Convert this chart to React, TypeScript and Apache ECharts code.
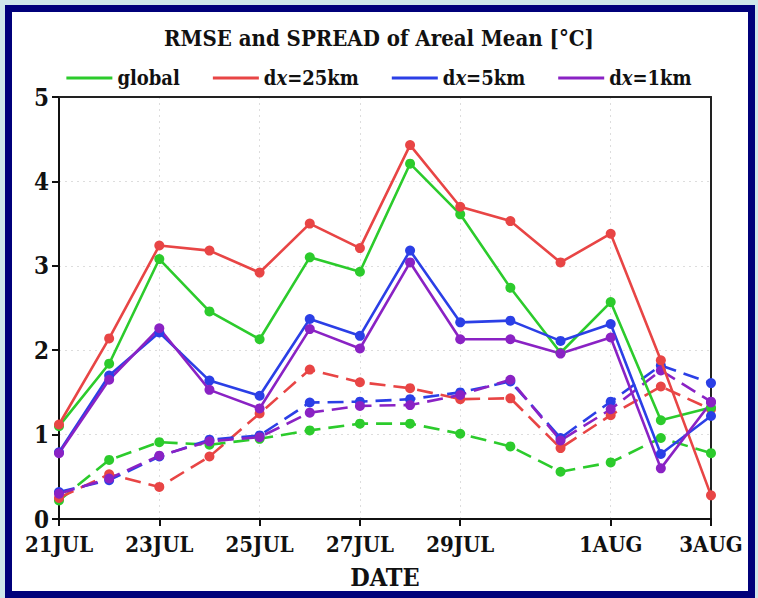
import React, { useEffect, useRef } from "react";
import * as echarts from "echarts";

const dates = ["21JUL","22JUL","23JUL","24JUL","25JUL","26JUL","27JUL","28JUL","29JUL","30JUL","31JUL","1AUG","2AUG","3AUG"];
const labeledIdx = [0, 2, 4, 6, 8, 11, 13];

const rmseGlobal = [1.10, 1.84, 3.08, 2.46, 2.13, 3.10, 2.93, 4.21, 3.61, 2.74, 1.97, 2.57, 1.17, 1.32];
const rmse25 = [1.12, 2.14, 3.24, 3.18, 2.92, 3.50, 3.21, 4.43, 3.70, 3.53, 3.04, 3.38, 1.88, 0.28];
const rmse5 = [0.79, 1.70, 2.21, 1.64, 1.46, 2.37, 2.17, 3.18, 2.33, 2.35, 2.11, 2.31, 0.77, 1.22];
const rmse1 = [0.78, 1.65, 2.26, 1.53, 1.31, 2.25, 2.02, 3.04, 2.13, 2.13, 1.96, 2.15, 0.60, 1.38];

const sprGlobal = [0.22, 0.70, 0.91, 0.88, 0.95, 1.05, 1.13, 1.13, 1.01, 0.86, 0.56, 0.67, 0.96, 0.78];
const spr25 = [0.25, 0.53, 0.38, 0.74, 1.25, 1.77, 1.62, 1.55, 1.42, 1.43, 0.84, 1.23, 1.57, 1.30];
const spr5 = [0.32, 0.46, 0.74, 0.94, 0.99, 1.38, 1.39, 1.42, 1.50, 1.63, 0.96, 1.39, 1.82, 1.61];
const spr1 = [0.30, 0.48, 0.75, 0.92, 0.97, 1.26, 1.34, 1.35, 1.47, 1.65, 0.93, 1.30, 1.76, 1.39];

const names = ["global", "dx=25km", "dx=5km", "dx=1km"];
const colors = ["#2ccb2c", "#e84545", "#2b3fe6", "#8a22c4"];

const FONT = "'DejaVu Serif Condensed', 'DejaVu Serif', serif";

export default function App() {
  const ref = useRef<HTMLDivElement>(null);
  useEffect(() => {
    if (!ref.current) return;
    const chart = echarts.init(ref.current, undefined, { renderer: "svg" });
    const rmse = [rmseGlobal, rmse25, rmse5, rmse1];
    const spr = [sprGlobal, spr25, spr5, spr1];
    const series: any[] = [];
    spr.forEach((d, i) => {
      series.push({
        name: names[i] + " spread",
        type: "line",
        data: d,
        symbol: "circle",
        symbolSize: 10,
        lineStyle: { color: colors[i], width: 2.6, type: [16, 8] },
        itemStyle: { color: colors[i] },
        z: 2,
      });
    });
    rmse.forEach((d, i) => {
      series.push({
        name: names[i],
        type: "line",
        data: d,
        symbol: "circle",
        symbolSize: 10,
        lineStyle: { color: colors[i], width: 2.6 },
        itemStyle: { color: colors[i] },
        z: 3,
      });
    });
    const showIdx = (idx: number) => labeledIdx.indexOf(idx) >= 0;
    chart.setOption({
      animation: false,
      backgroundColor: "#cfe7ea",
      graphic: [
        {
          type: "rect",
          shape: { x: 8.5, y: 8.5, width: 743, height: 586 },
          style: { fill: "#ffffff", stroke: "#00007a", lineWidth: 7 },
          z: -10,
          silent: true,
        },
      ],
      title: {
        text: "RMSE and SPREAD of Areal Mean [°C]",
        left: "center",
        top: 22,
        textStyle: { fontFamily: FONT, fontWeight: "bold", fontSize: 22, color: "#111" },
      },
      legend: {
        data: names,
        top: 63,
        left: "center",
        icon: "rect",
        itemWidth: 46,
        itemHeight: 3,
        itemGap: 33,
        formatter: (n: string) => n.replace("dx", "d{i|x}"),
        textStyle: {
          fontFamily: FONT,
          fontWeight: "bold",
          fontSize: 20,
          color: "#111",
          rich: {
            i: { fontFamily: FONT, fontWeight: "bold", fontStyle: "italic", fontSize: 20, color: "#111" },
          },
        },
      },
      grid: {
        left: 59,
        right: 47,
        top: 97,
        bottom: 79,
      },
      xAxis: [
        {
          type: "category",
          data: dates,
          boundaryGap: false,
          name: "DATE",
          nameLocation: "middle",
          nameGap: 46,
          nameTextStyle: { fontFamily: FONT, fontWeight: "bold", fontSize: 25, color: "#111" },
          axisLine: { onZero: false, lineStyle: { color: "#111", width: 2 } },
          axisTick: { show: true, interval: (i: number) => showIdx(i), length: 7, lineStyle: { color: "#111", width: 2 } },
          axisLabel: {
            interval: (i: number) => showIdx(i),
            fontFamily: FONT,
            fontWeight: "bold",
            fontSize: 22,
            color: "#111",
            margin: 14,
          },
          splitLine: { show: true, interval: (i: number) => showIdx(i), lineStyle: { color: "#dddddd", type: [2, 4], width: 1 } },
        },
        {
          type: "category",
          data: dates,
          boundaryGap: false,
          position: "top",
          axisLine: { show: true, onZero: false, lineStyle: { color: "#222", width: 2 } },
          axisTick: { show: false },
          axisLabel: { show: false },
          splitLine: { show: false },
        },
      ],
      yAxis: [
        {
          type: "value",
          min: 0,
          max: 5,
          interval: 1,
          axisLine: { show: true, onZero: false, lineStyle: { color: "#111", width: 2 } },
          axisTick: { show: true, length: 7, lineStyle: { color: "#111", width: 2 } },
          axisLabel: { fontFamily: FONT, fontWeight: "bold", fontSize: 24, color: "#111", margin: 10 },
          splitLine: { show: true, lineStyle: { color: "#dddddd", type: [2, 4], width: 1 } },
        },
        {
          type: "value",
          min: 0,
          max: 5,
          interval: 1,
          position: "right",
          axisLine: { show: true, onZero: false, lineStyle: { color: "#222", width: 2 } },
          axisTick: { show: false },
          axisLabel: { show: false },
          splitLine: { show: false },
        },
      ],
      series,
    });
    return () => chart.dispose();
  }, []);
  return (
    <div style={{ position: "fixed", left: 0, top: 0, width: 758, height: 598 }}>
      <div ref={ref} style={{ width: 758, height: 598 }} />
    </div>
  );
}
